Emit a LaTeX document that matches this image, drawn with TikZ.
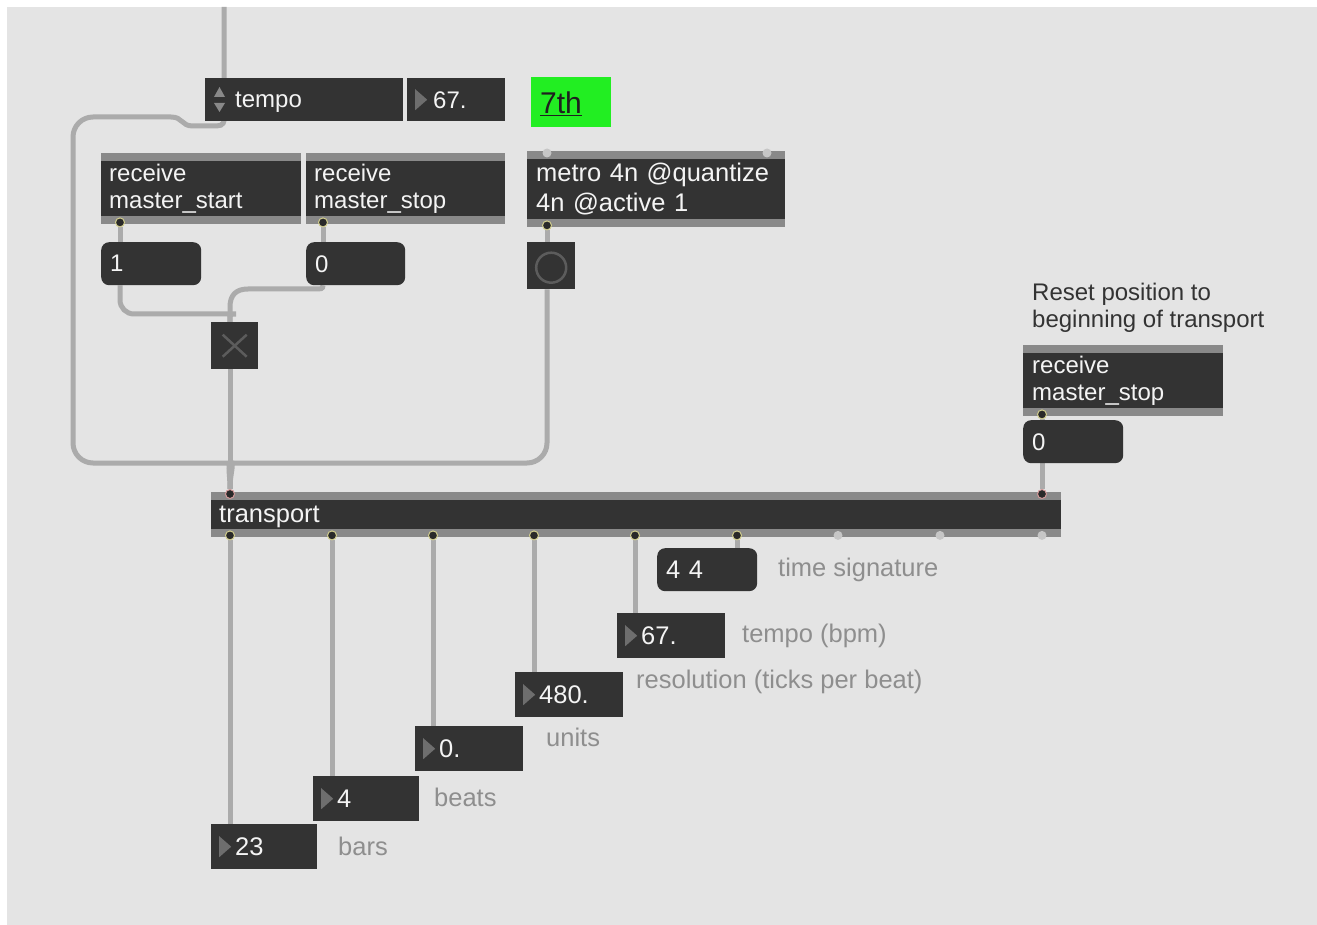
\documentclass[tikz,border=0pt]{standalone}
\usepackage{fontspec}
\setmainfont{Liberation Sans}

\definecolor{patchbg}{HTML}{E4E4E4}
\definecolor{boxc}{HTML}{333333}
\definecolor{stripc}{HTML}{898989}
\definecolor{cordc}{HTML}{ABABAB}
\definecolor{lblc}{HTML}{8E8E8E}
\definecolor{tric}{HTML}{6E6E6E}
\definecolor{markc}{HTML}{5C5C5C}
\definecolor{greenc}{HTML}{22EE22}
\definecolor{ringc}{HTML}{D2CE8E}
\definecolor{redring}{HTML}{D49A9A}
\definecolor{freec}{HTML}{C6C6C6}
\definecolor{txtc}{HTML}{F4F4F4}

\pgfdeclarelayer{bg}
\pgfdeclarelayer{cords}
\pgfsetlayers{bg,cords,main}

\tikzset{
  sm/.style={font=\fontsize{24}{27}\selectfont},
  lg/.style={font=\fontsize{25.5}{30}\selectfont},
  box/.style={fill=boxc, text=txtc, anchor=north west, inner xsep=8pt, inner ysep=0pt, align=left},
  oneline/.style={text depth=0pt},
  pad/.style={execute at begin node={\hspace*{#1}}},
  strips/.style={path picture={
      \fill[stripc] (path picture bounding box.north west) rectangle ([yshift=-8pt]path picture bounding box.north east);
      \fill[stripc] (path picture bounding box.south west) rectangle ([yshift=8pt]path picture bounding box.south east);}},
  num/.style={box, oneline, inner xsep=0pt, text width=#1, minimum height=45pt, path picture={
      \fill[tric] ([xshift=8pt,yshift=10.5pt]path picture bounding box.west) -- ([xshift=8pt,yshift=-10.5pt]path picture bounding box.west)
        -- ([xshift=20pt]path picture bounding box.west) -- cycle;}},
  msg/.style={box, oneline, rounded corners=8pt, inner xsep=9pt, text width=#1, minimum height=43pt},
  tog/.style={fill=boxc, anchor=north west, minimum width=47pt, minimum height=47pt, inner sep=0pt, path picture={
      \draw[markc, line width=2.5pt] ([shift={(-12pt,-11pt)}]path picture bounding box.center) -- ([shift={(12pt,11pt)}]path picture bounding box.center);
      \draw[markc, line width=2.5pt] ([shift={(-12pt,11pt)}]path picture bounding box.center) -- ([shift={(12pt,-11pt)}]path picture bounding box.center);}},
  bng/.style={fill=boxc, anchor=north west, minimum width=48pt, minimum height=47pt, inner sep=0pt, path picture={
      \draw[markc, line width=2.5pt] ([yshift=-2pt]path picture bounding box.center) circle (15pt);}},
  outl/.style={circle, fill=boxc!80!black, draw=ringc, line width=1pt, minimum size=9pt, inner sep=0pt},
  inl/.style={outl, draw=redring},
  port/.style={circle, fill=freec, minimum size=9pt, inner sep=0pt},
  lbl/.style={text=lblc, anchor=west, inner sep=0pt, lg},
  cord/.style={draw=cordc, line width=5pt}
}

\begin{document}
\begin{tikzpicture}[x=1pt, y=-1pt]
  \useasboundingbox (0,0) rectangle (1317,925);
  \begin{pgfonlayer}{bg}
    \fill[white] (0,0) rectangle (1317,925);
    \fill[patchbg] (7,7) rectangle (1317,925);
  \end{pgfonlayer}

  % upper part
  \coordinate (feed) at (224,7);
  \node[box, oneline, sm, inner xsep=0pt, text width=198pt, minimum height=43pt, pad=30pt] (tempo) at (205,78) {tempo};
  \fill[stripc] (214,97) -- (225,97) -- (219.5,87) -- cycle;
  \fill[stripc] (214,103) -- (225,103) -- (219.5,112) -- cycle;
  \node[num=98pt, sm, minimum height=43pt, pad=26pt] (tempoval) at (407,78) {67.};
  \node[box, oneline, fill=greenc, text=black!88, inner xsep=9pt, text width=62pt, minimum height=50pt,
        font=\fontsize{30}{34}\selectfont] (sev) at (531,77) {\underline{7th}};

  \node[box, strips, sm, text width=184pt, minimum height=71pt] (rstart) at (101,153) {receive\\master\_start};
  \node[box, strips, sm, text width=183pt, minimum height=71pt] (rstop) at (306,153) {receive\\master\_stop};
  \node[box, strips, lg, inner xsep=9pt, text width=240pt, minimum height=76pt] (metro) at (527,151) {metro 4n @quantize\\4n @active 1};
  \node[outl] (rstart-o) at ([xshift=19pt,yshift=2pt]rstart.south west) {};
  \node[outl] (rstop-o) at ([xshift=17pt,yshift=2pt]rstop.south west) {};
  \node[outl] (metro-o) at ([xshift=20pt,yshift=2pt]metro.south west) {};
  \node[port] (metro-i1) at ([xshift=20pt,yshift=-2pt]metro.north west) {};
  \node[port] (metro-i2) at ([xshift=240pt,yshift=-2pt]metro.north west) {};

  \node[msg=82pt, sm] (one) at (101,242) {1};
  \node[msg=81pt, sm] (zero) at (306,242) {0};
  \node[bng] (bang) at (527,242) {};
  \node[tog] (tog) at (211,322) {};
  \coordinate (one-o) at ([xshift=19pt]one.south west);
  \coordinate (zero-o) at ([xshift=17pt]zero.south west);
  \coordinate (bang-o) at ([xshift=20pt]bang.south west);
  \coordinate (tog-i) at ([xshift=19pt]tog.north west);
  \coordinate (tog-o) at ([xshift=19pt]tog.south west);

  % reset
  \node[text=boxc, anchor=west, align=left, inner sep=0pt, sm] (note) at (1032,308) {Reset position to\\beginning of transport};
  \node[box, strips, sm, inner xsep=9pt, text width=182pt, minimum height=71pt] (rreset) at (1023,345) {receive\\master\_stop};
  \node[outl] (rreset-o) at ([xshift=19pt,yshift=2pt]rreset.south west) {};
  \node[msg=82pt, sm] (zreset) at (1023,420) {0};
  \coordinate (zreset-o) at ([xshift=19pt]zreset.south west);

  % transport
  \node[box, oneline, strips, lg, text width=834pt, minimum height=45pt] (trans) at (211,492) {transport};
  \node[inl] (ti1) at ([xshift=19pt,yshift=-2pt]trans.north west) {};
  \node[inl] (ti2) at ([xshift=831pt,yshift=-2pt]trans.north west) {};
  \foreach \i/\dx in {1/19,2/121,3/222,4/323,5/424,6/526}
    \node[outl] (to\i) at ([xshift=\dx pt,yshift=2pt]trans.south west) {};
  \foreach \dx in {627,729,831}
    \node[port] (tf\dx) at ([xshift=\dx pt,yshift=2pt]trans.south west) {};

  \foreach \nm/\px/\py/\w/\val/\lx/\ly/\txt in {
      bars/211/824/106/23/338/846/bars,
      beats/313/776/106/4/434/797/beats,
      units/415/726/108/0./546/737/units,
      res/515/672/108/480./636/682/resolution (ticks per beat),
      bpm/617/613/108/67./742/636/tempo (bpm)} {
    \node[num=\w pt, lg, pad=24pt] (n\nm) at (\px,\py) {\val};
    \node[lbl] (l\nm) at (\lx,\ly) {\txt};
  }
  \node[msg=82pt, lg] (tsig) at (657,548) {4 4};
  \node[lbl] (ltsig) at (778,570) {time signature};

  \begin{pgfonlayer}{cords}
    \draw[cord] (feed) -- (224,119) .. controls (224,126) and (220,126) .. (212,126) -- (193,126)
      .. controls (181,126) and (183,117) .. (171,117) [rounded corners=20pt] -- (73,117) -- (73,463) -- (214,463)
      [sharp corners] .. controls (226,463) and (230,470) .. (ti1);
    \draw[cord] (bang-o) [rounded corners=20pt] -- (547,463) -- (248,463)
      [sharp corners] .. controls (236,463) and (230,470) .. (ti1);
    \draw[cord] (tog-o) -- (ti1);
    \draw[cord] (one-o) [rounded corners=14pt] -- (120,314) -- (222,314)
      [sharp corners] .. controls (228,314) and (230,316) .. (tog-i);
    \draw[cord] (zero-o) .. controls (323,289) and (321,289) .. (315,289) -- (248,289)
      .. controls (236,289) and (230,295) .. (230,307) -- (tog-i);
    \draw[cord] (rstart-o) -- (rstart-o |- one.north);
    \draw[cord] (rstop-o) -- (rstop-o |- zero.north);
    \draw[cord] (metro-o) -- (metro-o |- bang.north);
    \draw[cord] (rreset-o) -- (rreset-o |- zreset.north);
    \draw[cord] (zreset-o) -- (ti2);
    \foreach \i/\nm in {1/bars,2/beats,3/units,4/res,5/bpm}
      \draw[cord] (to\i) -- (to\i |- n\nm.north);
    \draw[cord] (to6) -- (to6 |- tsig.north);
  \end{pgfonlayer}
\end{tikzpicture}
\end{document}
